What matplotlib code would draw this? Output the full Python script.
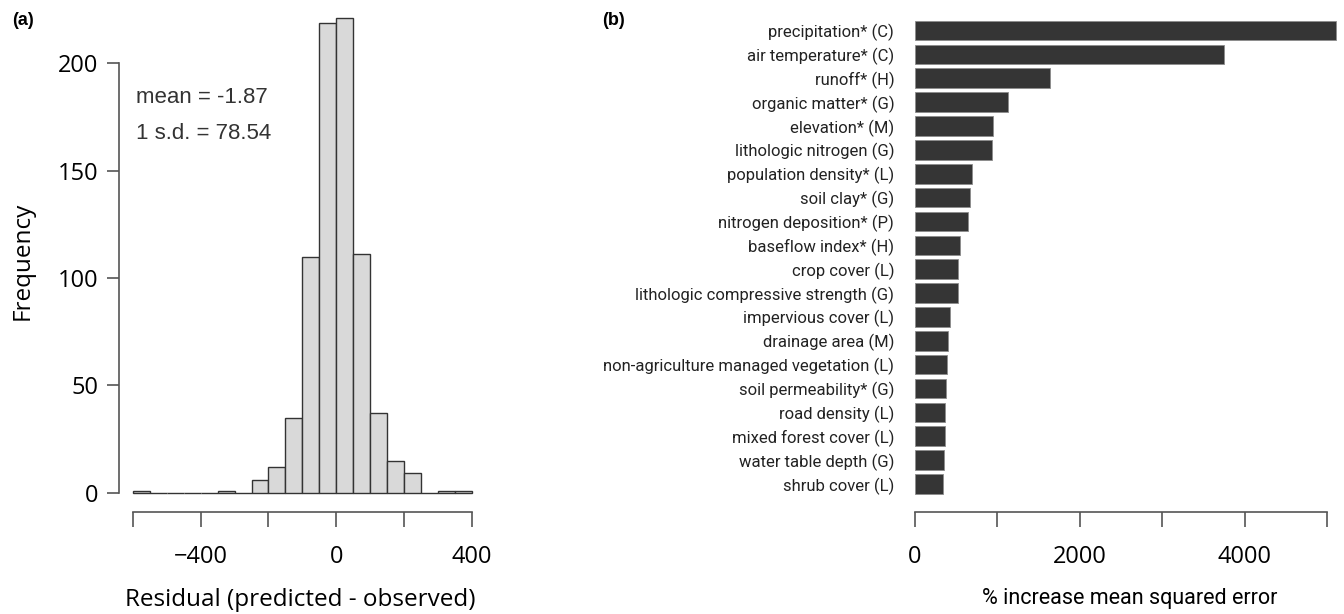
import matplotlib.pyplot as plt
import numpy as np
#------------------------

# panel (a): residual histogram
bin_edges = np.arange(-600, 401, 50)
counts = [1, 0, 0, 0, 0, 1, 0, 6, 12, 35, 110, 219, 221, 111, 37, 15, 9, 0, 1, 1]
hist_yticks = [0, 50, 100, 150, 200]
hist_xticks = [-600, -400, -200, 0, 200, 400]
hist_xlabels = ['', '\u2212400', '', '0', '', '400']

# panel (b): variable importance
variables = ['precipitation* (C)', 'air temperature* (C)', 'runoff* (H)',
             'organic matter* (G)', 'elevation* (M)', 'lithologic nitrogen (G)',
             'population density* (L)', 'soil clay* (G)', 'nitrogen deposition* (P)',
             'baseflow index* (H)', 'crop cover (L)', 'lithologic compressive strength (G)',
             'impervious cover (L)', 'drainage area (M)',
             'non-agriculture managed vegetation (L)', 'soil permeability* (G)',
             'road density (L)', 'mixed forest cover (L)', 'water table depth (G)',
             'shrub cover (L)']
pct_inc_mse = [5100, 3745, 1640, 1127, 941, 933, 695, 671, 638, 545,
               517, 517, 420, 400, 383, 376, 367, 359, 347, 335]
imp_xticks = [0, 1000, 2000, 3000, 4000, 5000]
imp_xlabels = ['0', '', '2000', '', '4000', '']

sans = ['Open Sans', 'DejaVu Sans']
narrow = ['Roboto', 'DejaVu Sans']
axcol = '#555555'

fig = plt.figure(figsize=(13.44, 6.14), dpi=100)

# ---- (a)
ax1 = fig.add_axes([0.0885, 0.1666, 0.2702, 0.8176])
centers = (bin_edges[:-1] + bin_edges[1:]) / 2
ax1.hist(centers, bins=bin_edges, weights=counts, color='#d9d9d9',
         edgecolor='#333333', linewidth=1.0)
ax1.set_xlim(-641, 430)
ax1.set_ylim(-8.85, 225)
for s in ['top', 'right']:
    ax1.spines[s].set_visible(False)
ax1.spines['left'].set_bounds(0, 200)
ax1.spines['bottom'].set_bounds(-600, 400)
for s in ['left', 'bottom']:
    ax1.spines[s].set_color(axcol)
    ax1.spines[s].set_linewidth(1.2)
ax1.set_yticks(hist_yticks)
ax1.set_yticklabels([str(v) for v in hist_yticks], family=sans, fontsize=17)
ax1.set_xticks(hist_xticks)
ax1.set_xticklabels(hist_xlabels, family=sans, fontsize=17)
ax1.tick_params(axis='y', length=8.6, width=1.2, color=axcol, pad=6)
ax1.tick_params(axis='x', length=10.8, width=1.2, color=axcol, pad=13)
ax1.set_xlabel('Residual (predicted - observed)', family=sans, fontsize=17.5, labelpad=14)
ax1.set_ylabel('Frequency', family=sans, fontsize=17.5, labelpad=17)
ax1.text(0.047, 0.826, 'mean = -1.87', transform=ax1.transAxes,
         family='Liberation Sans', fontsize=16, color='#333333', va='center')
ax1.text(0.047, 0.754, '1 s.d. = 78.54', transform=ax1.transAxes,
         family='Liberation Sans', fontsize=16, color='#333333', va='center')

# ---- (b)
ax2 = fig.add_axes([0.6808, 0.1666, 0.3192, 0.8226])
ypos = np.arange(len(variables))
ax2.barh(ypos, pct_inc_mse, height=0.82, color='#353535',
         edgecolor='#8c8c8c', linewidth=0.6)
ax2.set_xlim(0, 5200)
ax2.set_ylim(20.16, -1.0)
for s in ['top', 'right', 'left']:
    ax2.spines[s].set_visible(False)
ax2.spines['bottom'].set_bounds(0, 5000)
ax2.spines['bottom'].set_color(axcol)
ax2.spines['bottom'].set_linewidth(1.2)
ax2.set_yticks(ypos)
ax2.set_yticklabels(variables, family=narrow, fontsize=12, color='#222222')
ax2.tick_params(axis='y', length=0, pad=15)
ax2.set_xticks(imp_xticks)
ax2.set_xticklabels(imp_xlabels, family=sans, fontsize=17)
ax2.tick_params(axis='x', length=10.8, width=1.2, color=axcol, pad=13)
ax2.set_xlabel('% increase mean squared error', family=narrow, fontsize=15.5, labelpad=14)

fig.text(0.009, 0.967, '(a)', family='Liberation Sans', fontweight='bold', fontsize=13, va='center')
fig.text(0.448, 0.967, '(b)', family='Liberation Sans', fontweight='bold', fontsize=13, va='center')

plt.savefig('out.png', dpi=100)
